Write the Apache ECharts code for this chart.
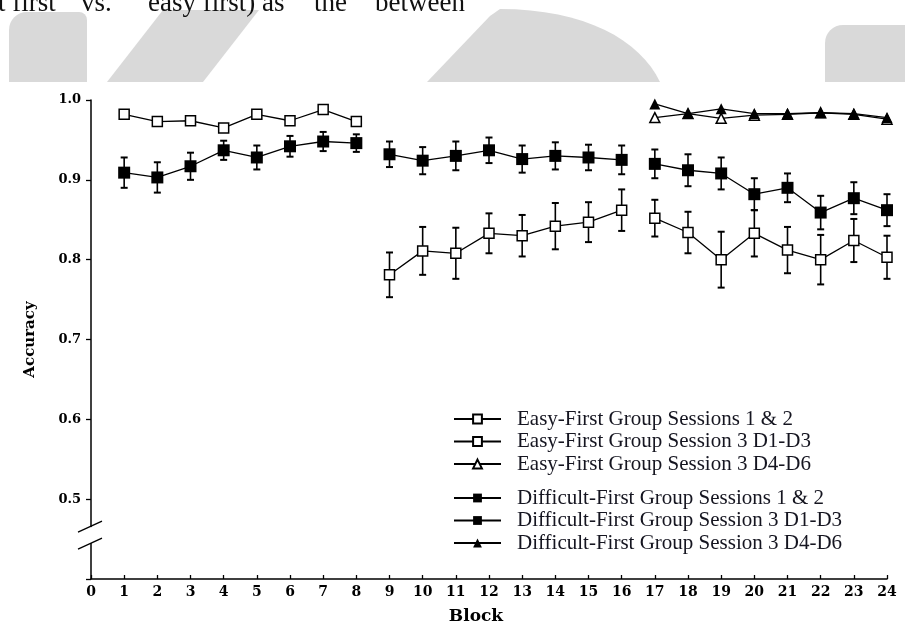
<!DOCTYPE html>
<html>
<head>
<meta charset="utf-8">
<script src="https://cdn.jsdelivr.net/npm/echarts@6/dist/echarts.min.js"></script>
<style>
html, body { margin: 0; padding: 0; background: #fff; }
#chart { width: 905px; height: 630px; }
</style>
</head>
<body>
<div id="chart"></div>
<script>
// blocks: session 1 = 1-8, session 2 = 9-16, session 3 = 17-24
var blocksS1 = [1, 2, 3, 4, 5, 6, 7, 8];
var blocksS2 = [9, 10, 11, 12, 13, 14, 15, 16];
var blocksS3 = [17, 18, 19, 20, 21, 22, 23, 24];

// Easy-First group
var easyS1 = [0.982, 0.973, 0.974, 0.965, 0.982, 0.974, 0.988, 0.973];
var easyS1Err = [0.004, 0.004, 0.004, 0.004, 0.004, 0.004, 0.004, 0.004];
var easyS2 = [0.781, 0.811, 0.808, 0.833, 0.830, 0.842, 0.847, 0.862];
var easyS2Err = [0.028, 0.030, 0.032, 0.025, 0.026, 0.029, 0.025, 0.026];
var easyS3D13 = [0.852, 0.834, 0.800, 0.833, 0.812, 0.800, 0.824, 0.803];
var easyS3D13Err = [0.023, 0.026, 0.035, 0.029, 0.029, 0.031, 0.027, 0.027];
var easyS3D46 = [0.978, 0.983, 0.977, 0.981, 0.982, 0.984, 0.982, 0.976];

// Difficult-First group
var diffS1 = [0.909, 0.903, 0.917, 0.937, 0.928, 0.942, 0.948, 0.946];
var diffS1Err = [0.019, 0.019, 0.017, 0.012, 0.015, 0.013, 0.012, 0.011];
var diffS2 = [0.932, 0.924, 0.930, 0.937, 0.926, 0.930, 0.928, 0.925];
var diffS2Err = [0.016, 0.017, 0.018, 0.016, 0.017, 0.017, 0.016, 0.018];
var diffS3D13 = [0.920, 0.912, 0.908, 0.882, 0.890, 0.859, 0.877, 0.862];
var diffS3D13Err = [0.018, 0.020, 0.020, 0.020, 0.018, 0.021, 0.020, 0.020];
var diffS3D46 = [0.995, 0.983, 0.989, 0.983, 0.983, 0.984, 0.983, 0.978];

var yTickValues = [0.4, 0.5, 0.6, 0.7, 0.8, 0.9, 1.0];
var yTickLabels = ['', '0.5', '0.6', '0.7', '0.8', '0.9', '1.0'];

var easyNames = ['Easy-First Group Sessions 1 & 2', 'Easy-First Group Session 3 D1-D3', 'Easy-First Group Session 3 D4-D6'];
var diffNames = ['Difficult-First Group Sessions 1 & 2', 'Difficult-First Group Session 3 D1-D3', 'Difficult-First Group Session 3 D4-D6'];

// cropped line of body text above the figure
var headWords = ['t first', 'vs.', 'easy first)', 'as', 'the', 'between'];
var headX = [-2, 81, 148, 262, 314, 375];

function pairs(xs, ys) {
    return xs.map(function (x, i) { return [x, ys[i]]; });
}
// two sessions joined, with a gap so the line breaks between them
function withGap(xa, ya, xb, yb) {
    return pairs(xa, ya).concat([[(xa[xa.length - 1] + xb[0]) / 2, '-']]).concat(pairs(xb, yb));
}

function lineSeries(name, data, symbol, filled, size) {
    return {
        type: 'line',
        name: name,
        data: data,
        symbol: symbol,
        symbolSize: size,
        showSymbol: true,
        connectNulls: false,
        animation: false,
        z: 3,
        lineStyle: { color: '#000', width: 1.3 },
        itemStyle: {
            color: filled ? '#000' : '#fff',
            borderColor: '#000',
            borderWidth: filled ? 0 : 1.5
        }
    };
}

function errSeries(xs, ys, es) {
    return {
        type: 'custom',
        silent: true,
        animation: false,
        z: 2,
        encode: { x: 0, y: [1, 2] },
        data: xs.map(function (x, i) { return [x, ys[i] - es[i], ys[i] + es[i]]; }),
        renderItem: function (params, api) {
            var lo = api.coord([api.value(0), api.value(1)]);
            var hi = api.coord([api.value(0), api.value(2)]);
            var w = 3.5;
            var cap = { stroke: '#000', lineWidth: 2 };
            return {
                type: 'group',
                children: [
                    { type: 'line', shape: { x1: lo[0], y1: lo[1], x2: hi[0], y2: hi[1] }, style: { stroke: '#000', lineWidth: 1.6 } },
                    { type: 'line', shape: { x1: lo[0] - w, y1: lo[1], x2: lo[0] + w, y2: lo[1] }, style: cap },
                    { type: 'line', shape: { x1: hi[0] - w, y1: hi[1], x2: hi[0] + w, y2: hi[1] }, style: cap }
                ]
            };
        }
    };
}

// points along a cubic curve, for the grey page shape
function cubic(p0, p1, p2, p3, n) {
    var pts = [];
    for (var i = 0; i <= n; i++) {
        var t = i / n, u = 1 - t;
        pts.push([
            u * u * u * p0[0] + 3 * u * u * t * p1[0] + 3 * u * t * t * p2[0] + t * t * t * p3[0],
            u * u * u * p0[1] + 3 * u * u * t * p1[1] + 3 * u * t * t * p2[1] + t * t * t * p3[1]
        ]);
    }
    return pts;
}

var tickFont = 'DejaVu Serif';
var legendText = { fontFamily: 'Liberation Serif', fontSize: 21, lineHeight: 22, color: '#151520', padding: [0, 0, 0, 11] };

var myChart = echarts.init(document.getElementById('chart'));

var option = {
    backgroundColor: '#fff',
    animation: false,
    grid: { left: 91, right: 18, top: 100, bottom: 47, containLabel: false },
    legend: [{
        data: easyNames,
        orient: 'vertical',
        left: 453,
        top: 408,
        padding: 0,
        itemWidth: 47,
        itemHeight: 11,
        itemGap: 0.5,
        textStyle: legendText
    }, {
        data: diffNames,
        orient: 'vertical',
        left: 453,
        top: 487,
        padding: 0,
        itemWidth: 47,
        itemHeight: 11,
        itemGap: 0.5,
        textStyle: legendText
    }],
    xAxis: {
        type: 'value',
        min: 0,
        max: 24,
        interval: 1,
        name: 'Block',
        nameLocation: 'middle',
        nameGap: 29,
        nameTextStyle: { fontFamily: tickFont, fontWeight: 'bold', fontSize: 17, color: '#000', padding: [0, 26, 0, 0] },
        axisLine: { show: true, onZero: false, lineStyle: { color: '#000', width: 1.5 } },
        axisTick: { show: true, inside: true, length: 4, lineStyle: { color: '#000', width: 1.3 } },
        axisLabel: { fontFamily: tickFont, fontWeight: 'bold', fontSize: 14, color: '#000', margin: 6 },
        splitLine: { show: false }
    },
    yAxis: {
        type: 'value',
        min: 0.4,
        max: 1.0,
        interval: 0.1,
        name: 'Accuracy',
        nameLocation: 'middle',
        nameGap: 53,
        nameTextStyle: { fontFamily: tickFont, fontWeight: 'bold', fontSize: 15, color: '#000' },
        axisLine: { show: true, lineStyle: { color: '#000', width: 1.5 } },
        axisTick: { show: true, length: 5, lineStyle: { color: '#000', width: 1.3 } },
        axisLabel: {
            fontFamily: tickFont, fontWeight: 'bold', fontSize: 13, color: '#000', margin: 10,
            formatter: function (v) {
                var i = yTickValues.findIndex(function (t) { return Math.abs(t - v) < 1e-6; });
                return i < 0 ? '' : yTickLabels[i];
            }
        },
        splitLine: { show: false }
    },
    series: [
        errSeries(blocksS1, easyS1, easyS1Err),
        errSeries(blocksS2, easyS2, easyS2Err),
        errSeries(blocksS3, easyS3D13, easyS3D13Err),
        errSeries(blocksS1, diffS1, diffS1Err),
        errSeries(blocksS2, diffS2, diffS2Err),
        errSeries(blocksS3, diffS3D13, diffS3D13Err),
        lineSeries(easyNames[0], withGap(blocksS1, easyS1, blocksS2, easyS2), 'rect', false, 10),
        lineSeries(easyNames[1], pairs(blocksS3, easyS3D13), 'rect', false, 10),
        lineSeries(easyNames[2], pairs(blocksS3, easyS3D46), 'triangle', false, 10),
        lineSeries(diffNames[0], withGap(blocksS1, diffS1, blocksS2, diffS2), 'rect', true, 12),
        lineSeries(diffNames[1], pairs(blocksS3, diffS3D13), 'rect', true, 12),
        lineSeries(diffNames[2], pairs(blocksS3, diffS3D46), 'triangle', true, 11)
    ]
};
myChart.setOption(option);

// axis break marks on the y axis, plus the page background bits
var x0 = myChart.convertToPixel({ xAxisIndex: 0 }, 0);
var yb = myChart.convertToPixel({ yAxisIndex: 0 }, 0.455);
var grey = '#d9d9d9';
var arcPts = [[427, 82], [490, 16]].concat(cubic([500, 9], [585, 9], [640, 40], [660, 82], 16));
var graphics = [
    { type: 'rect', shape: { x: x0 - 3, y: yb - 8, width: 6, height: 16 }, style: { fill: '#fff' }, z: 100 },
    { type: 'line', shape: { x1: x0 - 13, y1: yb - 3, x2: x0 + 11, y2: yb - 14 }, style: { stroke: '#000', lineWidth: 1.3 }, z: 101 },
    { type: 'line', shape: { x1: x0 - 13, y1: yb + 14, x2: x0 + 11, y2: yb + 3 }, style: { stroke: '#000', lineWidth: 1.3 }, z: 101 },
    { type: 'rect', shape: { x: 9, y: 12, width: 78, height: 70, r: [18, 8, 0, 0] }, style: { fill: grey }, z: -10 },
    { type: 'polygon', shape: { points: [[163, 10], [259, 10], [203, 82], [107, 82]] }, style: { fill: grey }, z: -10 },
    { type: 'polygon', shape: { points: arcPts }, style: { fill: grey }, z: -10 },
    { type: 'rect', shape: { x: 825, y: 25, width: 80, height: 57, r: [18, 0, 0, 0] }, style: { fill: grey }, z: -10 }
];
headWords.forEach(function (w, i) {
    graphics.push({
        type: 'text', z: 50,
        style: { text: w, x: headX[i], y: 4, font: '27px "Liberation Serif"', fill: '#111', textVerticalAlign: 'middle' }
    });
});
myChart.setOption({ graphic: graphics });
</script>
</body>
</html>
